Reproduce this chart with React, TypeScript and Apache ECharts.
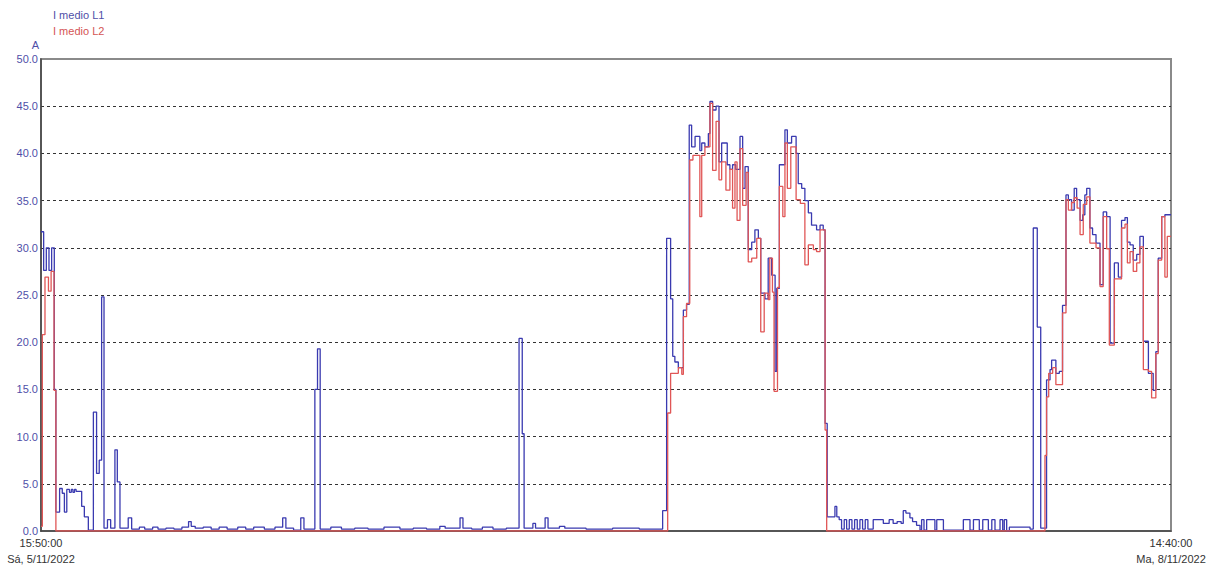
import { useEffect, useRef } from "react";
import * as echarts from "echarts";

// Start of the record: Sá, 5/11/2022 15:50:00 ; span in minutes up to Ma, 8/11/2022 14:40:00
const START_TIME = new Date(2022, 10, 5, 15, 50, 0).getTime();
const SPAN_MINUTES = 4250;
const WEEKDAYS = ["Do", "Lu", "Ma", "Mi", "Ju", "Vi", "Sá"];
const SERIES_NAMES = ["I medio L1", "I medio L2"];
const Y_UNIT = "A";

// change points: [minutes from start, current A] — value holds until next point
const l1Steps: [number, number][] = [
  [0, 31.7], [10, 27.6], [20, 30.0], [30, 27.6], [40, 30.0], [50, 15.0], [56, 2.0],
  [70, 4.5], [80, 4.0], [88, 2.0], [97, 4.4], [107, 4.1], [114, 4.4], [120, 4.1],
  [126, 4.4], [132, 4.2], [153, 2.6], [163, 1.5], [178, 0.1], [197, 12.6], [209, 6.1],
  [219, 7.5], [228, 24.8], [237, 0.3], [250, 1.2], [262, 0.3], [278, 8.6], [287, 5.2],
  [297, 0.3], [328, 1.4], [341, 0.2], [370, 0.4], [390, 0.2], [420, 0.4], [440, 0.2],
  [470, 0.3], [500, 0.2], [530, 0.4], [555, 1.0], [565, 0.5], [580, 0.3], [610, 0.4],
  [640, 0.2], [670, 0.4], [700, 0.2], [740, 0.4], [770, 0.2], [800, 0.4], [840, 0.2],
  [880, 0.4], [909, 1.4], [921, 0.3], [950, 0.1], [977, 1.4], [989, 0.2], [1030, 15.0],
  [1040, 19.3], [1050, 0.2], [1090, 0.4], [1130, 0.2], [1180, 0.3], [1230, 0.2],
  [1290, 0.4], [1350, 0.2], [1400, 0.3], [1450, 0.2], [1500, 0.5], [1520, 0.3],
  [1576, 1.4], [1587, 0.3], [1620, 0.2], [1660, 0.4], [1700, 0.2], [1750, 0.3],
  [1798, 20.4], [1810, 10.3], [1817, 0.3], [1850, 0.8], [1860, 0.3], [1896, 1.4],
  [1907, 0.3], [1950, 0.5], [1970, 0.3], [2050, 0.2], [2150, 0.3], [2250, 0.2],
  [2338, 2.15], [2353, 31.0], [2368, 24.6], [2376, 18.5], [2384, 17.9], [2397, 17.3],
  [2416, 23.4], [2428, 24.0], [2438, 43.0], [2447, 40.7], [2460, 41.8], [2478, 40.3],
  [2485, 41.1], [2497, 40.7], [2510, 42.1], [2516, 45.5], [2526, 44.6], [2539, 45.0],
  [2550, 39.1], [2560, 41.1], [2581, 38.8], [2591, 38.3], [2601, 38.8], [2613, 38.3],
  [2629, 41.8], [2639, 36.3], [2648, 38.6], [2660, 29.8], [2673, 30.6], [2685, 31.9],
  [2698, 31.0], [2707, 25.2], [2723, 24.6], [2735, 28.9], [2748, 27.1], [2761, 16.9],
  [2767, 25.7], [2777, 38.8], [2798, 42.5], [2807, 41.1], [2823, 41.8], [2840, 40.0],
  [2848, 36.8], [2861, 36.3], [2873, 35.0], [2886, 33.7], [2898, 32.4], [2917, 31.9],
  [2930, 32.4], [2942, 31.9], [2949, 11.4], [2957, 1.5], [2986, 2.6], [2993, 1.5],
  [3002, 1.2], [3011, 0.2], [3021, 1.2], [3030, 0.2], [3040, 1.2], [3050, 0.2],
  [3060, 1.2], [3070, 0.2], [3080, 1.2], [3090, 0.2], [3100, 1.2], [3110, 0.2],
  [3130, 1.2], [3168, 0.8], [3190, 1.2], [3205, 0.8], [3220, 1.0], [3235, 0.8],
  [3243, 2.15], [3253, 1.9], [3268, 1.4], [3278, 1.0], [3293, 0.6], [3306, 0.1],
  [3312, 1.2], [3321, 0.1], [3331, 1.2], [3362, 0.1], [3369, 1.2], [3394, 0.1],
  [3469, 1.2], [3494, 0.1], [3507, 1.2], [3529, 0.1], [3542, 1.2], [3563, 0.1],
  [3576, 1.2], [3588, 0.1], [3607, 1.2], [3617, 0.1], [3623, 1.2], [3632, 0.0],
  [3642, 0.4], [3720, 0.2], [3732, 32.1], [3747, 21.6], [3760, 0.3], [3782, 16.0],
  [3795, 17.1], [3801, 18.1], [3817, 16.7], [3830, 16.9], [3842, 23.9], [3855, 35.6],
  [3864, 35.1], [3876, 34.0], [3886, 36.3], [3895, 35.1], [3908, 32.9], [3918, 33.5],
  [3926, 35.6], [3933, 36.3], [3945, 32.1], [3955, 31.4], [3968, 30.5], [3983, 26.1],
  [3995, 33.8], [4008, 33.3], [4021, 19.9], [4037, 28.4], [4052, 26.9], [4064, 32.9],
  [4077, 33.2], [4086, 30.6], [4096, 30.3], [4108, 28.7], [4121, 29.3], [4133, 31.2],
  [4146, 20.1], [4165, 16.7], [4183, 14.9], [4193, 19.0], [4202, 28.9], [4215, 33.3],
  [4227, 33.5],
];

const l2Steps: [number, number][] = [
  [0, 0.5], [5, 20.8], [15, 26.9], [28, 25.4], [38, 27.5], [49, 14.9], [56, 0.0],
  [2357, 12.5], [2368, 16.7], [2397, 17.3], [2410, 16.6], [2416, 22.7], [2428, 24.1],
  [2440, 39.3], [2452, 39.8], [2478, 33.3], [2485, 39.8], [2497, 40.7], [2516, 45.3],
  [2526, 38.2], [2539, 43.4], [2550, 37.2], [2560, 39.1], [2576, 36.1], [2591, 38.3],
  [2601, 34.2], [2610, 39.1], [2618, 32.9], [2629, 40.5], [2639, 34.5], [2652, 38.0],
  [2660, 28.5], [2673, 28.9], [2692, 31.0], [2707, 21.1], [2720, 25.2], [2735, 24.5],
  [2741, 28.9], [2751, 25.3], [2757, 14.8], [2770, 25.8], [2777, 36.5], [2790, 33.3],
  [2798, 41.1], [2807, 36.3], [2820, 40.7], [2840, 35.1], [2856, 34.7], [2873, 28.2],
  [2886, 30.3], [2905, 29.8], [2917, 29.6], [2930, 31.9], [2949, 10.7], [2955, 0.0],
  [3776, 8.0], [3782, 14.2], [3790, 16.7], [3805, 17.3], [3817, 15.5], [3842, 23.1],
  [3855, 35.1], [3864, 34.0], [3876, 34.8], [3886, 35.3], [3897, 34.2], [3908, 31.4],
  [3920, 34.6], [3933, 35.4], [3945, 30.5], [3968, 30.0], [3983, 25.9], [3995, 33.3],
  [4008, 29.9], [4018, 19.7], [4037, 26.7], [4064, 32.1], [4077, 32.5], [4086, 28.4],
  [4096, 29.6], [4108, 27.5], [4121, 28.4], [4133, 30.1], [4146, 17.1], [4165, 16.9],
  [4177, 14.1], [4193, 18.8], [4202, 28.7], [4215, 33.3], [4227, 26.9], [4236, 31.2],
];

const BLUE = "#3a3ab0";
const RED = "#e05656";
const GRID_DASH = "#333333";
const NO_LINE = "rgba(0,0,0,0)";

function pad(n: number) {
  return n < 10 ? "0" + n : String(n);
}

function formatTime(minutes: number) {
  const d = new Date(START_TIME + minutes * 60000);
  return (
    pad(d.getHours()) + ":" + pad(d.getMinutes()) + ":" + pad(d.getSeconds()) + "\n" +
    WEEKDAYS[d.getDay()] + ", " + d.getDate() + "/" + (d.getMonth() + 1) + "/" + d.getFullYear()
  );
}

function withEnd(steps: [number, number][]) {
  const last = steps[steps.length - 1];
  return [...steps, [SPAN_MINUTES, last[1]]];
}

export default function App() {
  const ref = useRef<HTMLDivElement>(null);

  useEffect(() => {
    if (!ref.current) return;
    const chart = echarts.init(ref.current, null, { renderer: "svg" });
    const font = "Liberation Sans";
    // dashed grid at 5..45 only (0 and 50 are covered by the frame)
    const splitColors = [NO_LINE, GRID_DASH, GRID_DASH, GRID_DASH, GRID_DASH, GRID_DASH,
      GRID_DASH, GRID_DASH, GRID_DASH, GRID_DASH, NO_LINE];
    chart.setOption({
      animation: false,
      backgroundColor: "#ffffff",
      grid: {
        left: 41,
        top: 59,
        right: 40,
        bottom: 34,
        containLabel: false,
        outerBoundsMode: "none",
        show: true,
        borderColor: "#8a8a8a",
        borderWidth: 2,
      },
      graphic: [
        {
          type: "text",
          left: 53,
          top: 9,
          style: { text: SERIES_NAMES[0], fill: "#4f4fa8", font: `11px "${font}"` },
        },
        {
          type: "text",
          left: 53,
          top: 25,
          style: { text: SERIES_NAMES[1], fill: "#d45454", font: `11px "${font}"` },
        },
      ],
      xAxis: {
        type: "value",
        min: 0,
        max: SPAN_MINUTES,
        interval: SPAN_MINUTES,
        axisLine: { show: true, lineStyle: { color: "#444", width: 1.5 } },
        axisTick: { show: false },
        splitLine: { show: false },
        axisLabel: {
          formatter: (v: number) => formatTime(v),
          color: "#333",
          fontSize: 11,
          fontFamily: font,
          lineHeight: 16,
          margin: 4,
        },
      },
      yAxis: {
        type: "value",
        min: 0,
        max: 50,
        interval: 5,
        name: Y_UNIT,
        nameGap: 9,
        nameTextStyle: { color: "#4f4fa8", fontSize: 11, fontFamily: font, align: "right", padding: [0, 2, 0, 0] },
        axisLine: { show: true, lineStyle: { color: "#444", width: 1.5 } },
        axisTick: { show: false },
        splitLine: { show: true, lineStyle: { color: splitColors, type: [3, 3], width: 1 } },
        axisLabel: {
          formatter: (v: number) => v.toFixed(1),
          color: "#4f4fa8",
          fontSize: 11,
          fontFamily: font,
          margin: 3,
        },
      },
      series: [
        {
          name: SERIES_NAMES[0],
          type: "line",
          step: "end",
          data: withEnd(l1Steps),
          showSymbol: false,
          lineStyle: { color: BLUE, width: 1.3 },
          itemStyle: { color: BLUE },
        },
        {
          name: SERIES_NAMES[1],
          type: "line",
          step: "end",
          data: withEnd(l2Steps),
          showSymbol: false,
          lineStyle: { color: RED, width: 1.3 },
          itemStyle: { color: RED },
        },
      ],
    });
    return () => chart.dispose();
  }, []);

  return (
    <div
      ref={ref}
      style={{ position: "absolute", left: 0, top: 0, width: 1211, height: 565 }}
    />
  );
}
